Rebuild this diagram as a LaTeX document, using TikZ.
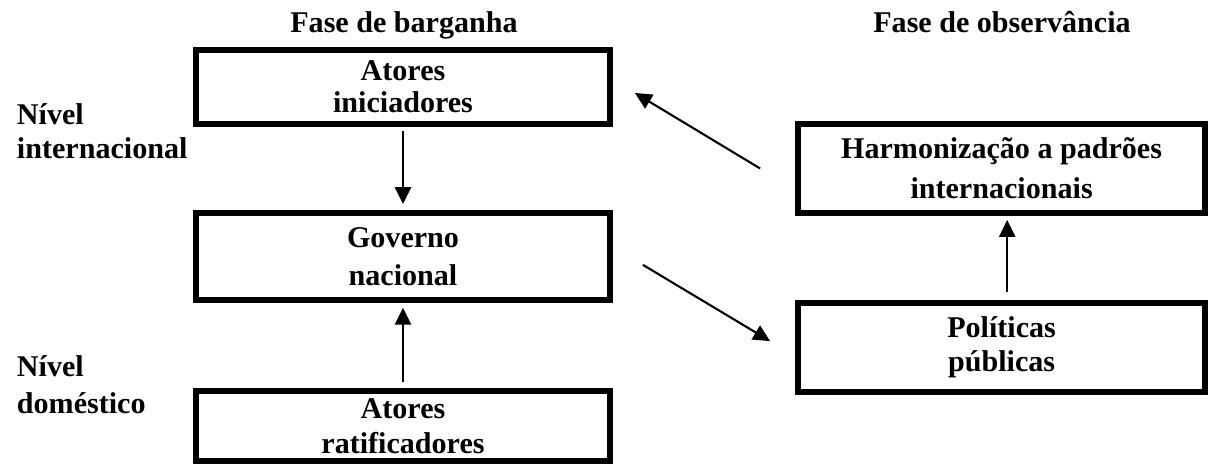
\documentclass[tikz,border=0pt]{standalone}
\usepackage{fontspec}
\setmainfont{Liberation Serif}
\usepackage{tikz}
\usetikzlibrary{positioning,calc,arrows.meta}

\begin{document}
\begin{tikzpicture}[
    font=\bfseries\fontsize{21.4}{24}\selectfont,
    box/.style={draw, line width=4.2pt, align=center, inner sep=0pt},
    arr/.style={line width=1.5pt, -{Triangle[length=0.42cm, width=0.4cm]}}
    ]
        \useasboundingbox (0,0) rectangle (30.275,11.625);

        % Fase de barganha
        \node[anchor=base] (barg) at (10.1,10.8) {Fase de barganha};
        \node[box, minimum width=10.35cm, minimum height=1.85cm] (ini) at (10.075,9.45) {Atores\\[-1.5pt]iniciadores};
        \node[box, minimum width=10.35cm, minimum height=2.175cm] (gov) at (10.075,5.2125) {Governo\\[3pt]nacional};
        \node[box, minimum width=10.35cm, minimum height=1.75cm] (rat) at (10.075,0.975) {Atores\\[1pt]ratificadores};

        % Fase de observancia
        \node[anchor=base] (obs) at (25.05,10.8) {Fase de observância};
        \node[box, minimum width=10.175cm, minimum height=2.225cm] (harm) at (25.04,7.4125) {Harmonização a padrões\\[4.5pt]internacionais};
        \node[box, minimum width=10.175cm, minimum height=2.225cm] (pol) at (25.04,2.9375) {Políticas\\públicas};

        % Niveis
        \node[anchor=west, align=left] (nint) at (0.3,8.35) {Nível\\[0.5pt]internacional};
        \node[anchor=west, align=left] (ndom) at (0.3,2.0) {Nível\\[2.5pt]doméstico};

        % Arrows
        \draw[arr, shorten <=0.1cm, shorten >=0.15cm] (ini.south) -- (gov.north);
        \draw[arr, shorten <=0.15cm, shorten >=0.12cm] (rat.north) -- (gov.south);
        \draw[arr, shorten <=0.2cm, shorten >=0.1cm] ($(pol.north)+(0.14,0)$) -- ($(harm.south)+(0.14,0)$);
        \draw[arr] ($(harm.west)+(-0.875,0)$) -- ($(ini.east)+(0.55,-0.15)$);
        \draw[arr] ($(gov.east)+(0.75,-0.21)$) -- ($(pol.west)+(-0.625,0.16)$);
\end{tikzpicture}
\end{document}
